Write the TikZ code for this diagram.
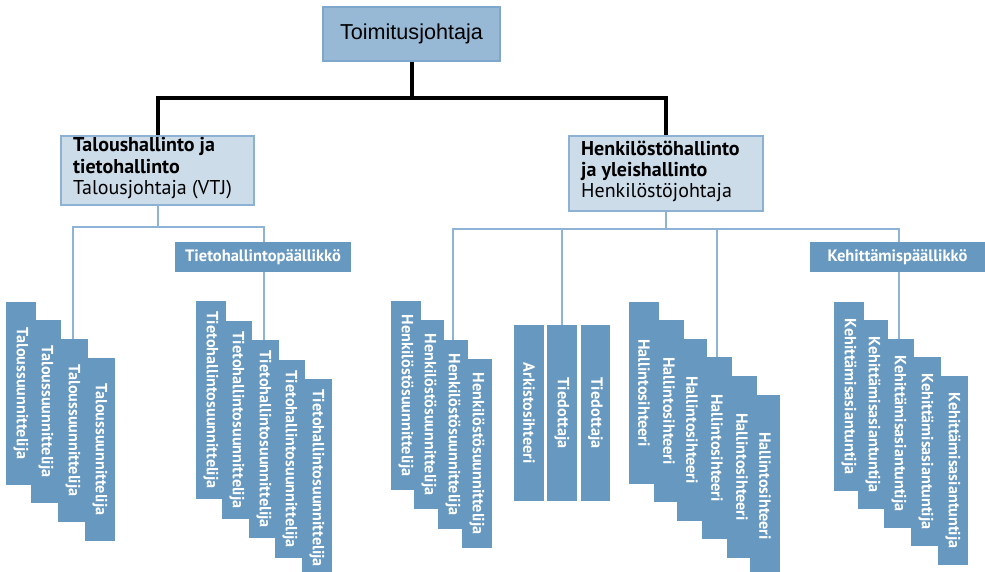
\documentclass[tikz,border=0pt]{standalone}
\usepackage{fontspec}
\setmainfont{PT Sans}
\newfontfamily\arialf{Liberation Sans}
\usetikzlibrary{backgrounds}
\definecolor{topfill}{HTML}{97B9D5}
\definecolor{topline}{HTML}{7FA6CB}
\definecolor{sidefill}{HTML}{CCDCE9}
\definecolor{sideline}{HTML}{8DB1D3}
\definecolor{darkbox}{HTML}{6798C0}
\definecolor{conn}{HTML}{8EB3D5}
\begin{document}
\begin{tikzpicture}[x=1pt,y=-1pt,
  topbox/.style={draw=topline, line width=1.2pt, fill=topfill, minimum width=177pt, minimum height=54pt, inner sep=0pt, font=\arialf\fontsize{21.6}{24}\selectfont},
  sidebox/.style={draw=sideline, line width=1.2pt, fill=sidefill, inner sep=0pt},
  sidetext/.style={anchor=base west, align=left, inner sep=0pt, font=\fontsize{20}{21.5}\selectfont},
  headbox/.style={fill=darkbox, text=white, minimum width=176pt, minimum height=30pt, inner sep=0pt, font=\bfseries\fontsize{16.5}{16.5}\selectfont},
  vb/.style={fill=darkbox, text=white, minimum width=30pt, inner sep=0pt, anchor=north, font=\bfseries\fontsize{16.2}{16.2}\selectfont},
  blackline/.style={line width=4pt, black, line join=miter},
  lightline/.style={line width=2pt, conn}]
\useasboundingbox (0,0) rectangle (985,572);
\clip (0,0) rectangle (985,572);
% top level
\node[topbox] (ceo) at (411.5,34) {Toimitusjohtaja};
\node[sidebox, minimum width=193pt, minimum height=69pt] (fin) at (157.5,170.5) {};
\node[sidetext] (fintxt) at (73,195) {\textbf{Taloushallinto ja}\\\textbf{tietohallinto}\\Talousjohtaja (VTJ)};
\node[sidebox, minimum width=194pt, minimum height=75pt] (hr) at (666,173.5) {};
\node[sidetext] (hrtxt) at (581,198) {\textbf{Henkilöstöhallinto}\\\textbf{ja yleishallinto}\\Henkilöstöjohtaja};
% header boxes
\node[headbox] (tp) at (263,257) {Tietohallintopäällikkö};
\node[headbox, minimum width=175pt] (kp) at (897.5,257) {Kehittämispäällikkö};
% stacks
\foreach \i/\x/\y in {1/21/302, 2/46/320, 3/73/339, 4/100/358}
  \node[vb, minimum height=183pt] (t\i) at (\x,\y) {\rotatebox{-90}{Taloussuunnittelija}};
\foreach \i/\x/\y in {1/211/301, 2/237/321, 3/264/340, 4/290/360, 5/317/379}
  \node[vb, minimum height=198pt] (ti\i) at (\x,\y) {\rotatebox{-90}{Tietohallintosuunnittelija}};
\foreach \i/\x/\y in {1/406/301, 2/429/320, 3/453/340, 4/477/359}
  \node[vb, minimum height=189pt] (h\i) at (\x,\y) {\rotatebox{-90}{Henkilöstösuunnittelija}};
\node[vb, minimum height=176pt] (ark) at (529,325) {\rotatebox{-90}{Arkistosihteeri}};
\node[vb, minimum height=176pt] (tied1) at (562,325) {\rotatebox{-90}{Tiedottaja}};
\node[vb, minimum height=176pt, minimum width=29pt] (tied2) at (595.5,325) {\rotatebox{-90}{Tiedottaja}};
\foreach \i/\x/\y in {1/644/302, 2/669/320, 3/692/339, 4/717/357, 5/742/376, 6/765/395}
  \node[vb, minimum height=182pt] (ha\i) at (\x,\y) {\rotatebox{-90}{Hallintosihteeri}};
\foreach \i/\x/\y in {1/849/302, 2/873/320, 3/899/339, 4/926/357, 5/953/376}
  \node[vb, minimum height=189pt] (k\i) at (\x,\y) {\rotatebox{-90}{Kehittämisasiantuntija}};
% connectors
\begin{pgfonlayer}{background}
  \coordinate (j) at (ceo.south |- 0,98);
  \draw[blackline] (ceo.south) -- (j);
  \draw[blackline] (fin.north) |- (j) -| (hr.north);
  \coordinate (fj) at (fin.south |- 0,227);
  \draw[lightline] (fin.south) -- (fj);
  \draw[lightline] (t3.north) |- (fj) -| (ti3.north);
  \coordinate (hj) at (hr.south |- 0,229);
  \draw[lightline] (hr.south) -- (hj);
  \draw[lightline] (h3.north) |- (hj) -| (k3.north);
  \draw[lightline] (tied1.north) -- (tied1.north |- hj);
  \draw[lightline] (ha4.north) -- (ha4.north |- hj);
\end{pgfonlayer}
\end{tikzpicture}
\end{document}
